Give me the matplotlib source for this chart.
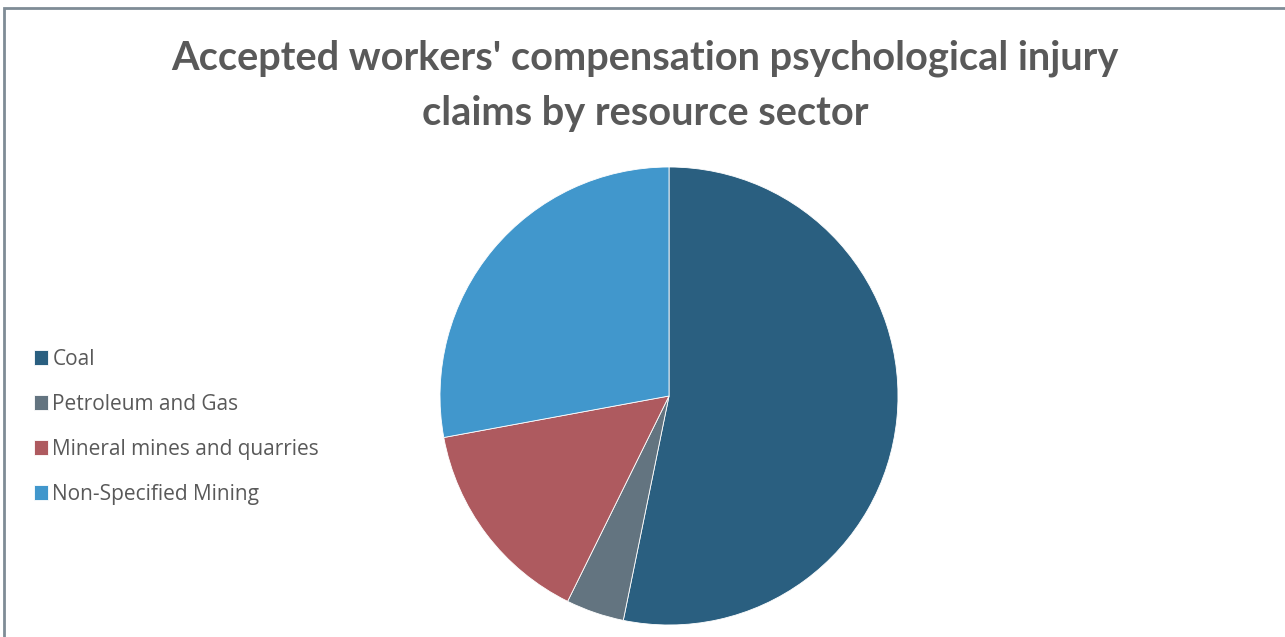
import matplotlib.pyplot as plt
from matplotlib.patches import Rectangle

sectors = ['Coal', 'Petroleum and Gas', 'Mineral mines and quarries', 'Non-Specified Mining']
shares = [53.2, 4.1, 14.8, 27.9]
colors = ['#2A5F80', '#637480', '#AE5A5F', '#4197CC']
title = "Accepted workers' compensation psychological injury\nclaims by resource sector"

W, H = 1285, 637
fig = plt.figure(figsize=(W / 100, H / 100), dpi=100)

# chart area outline (runs off the right and bottom edges)
fig.patches.append(Rectangle((4 / W, -0.1), 1.2, (H - 8) / H + 0.1, transform=fig.transFigure,
                             fill=False, edgecolor='#7F8C96', linewidth=2))

cx, cy, r = 669, 396, 229
ax = fig.add_axes([(cx - r) / W, (H - cy - r) / H, 2 * r / W, 2 * r / H])
wedges, _ = ax.pie(shares, colors=colors, startangle=90, counterclock=False, radius=1,
                   wedgeprops=dict(edgecolor='white', linewidth=0.6))
ax.set_xlim(-1, 1)
ax.set_ylim(-1, 1)
ax.set_aspect('equal')
ax.axis('off')

fig.text(645 / W, 1 - 86 / H, title, ha='center', va='center', fontsize=28.6,
         fontweight='bold', color='#595959', family='Lato', linespacing=1.6)

fig.legend(wedges, sectors, loc='center left', bbox_to_anchor=(15 / W, 1 - 427 / H),
           frameon=False, prop=dict(family='Open Sans', size=15), labelcolor='#595959',
           handlelength=0.7, handleheight=0.7, handletextpad=0.2, labelspacing=1.15)

fig.savefig('out.png', dpi=100)
